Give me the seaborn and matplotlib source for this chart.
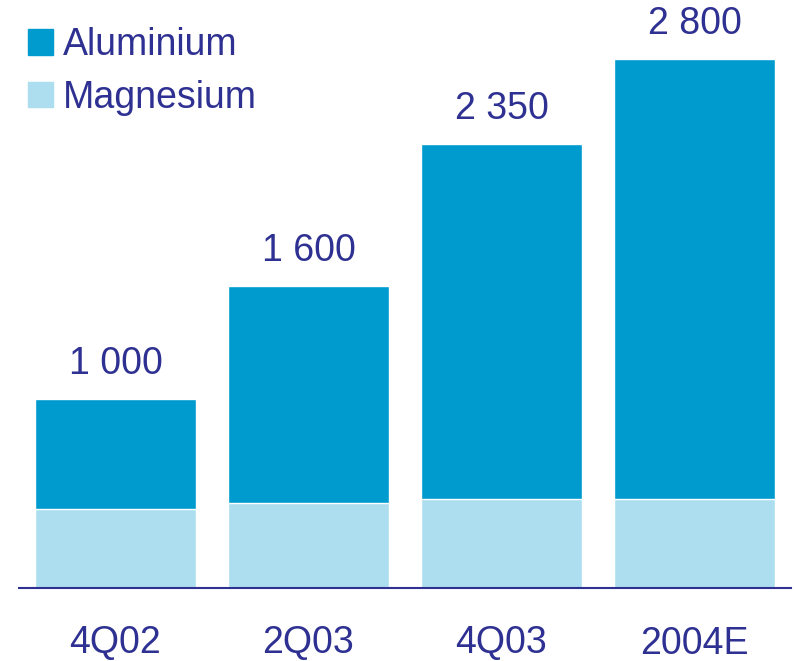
import matplotlib
matplotlib.use("Agg")
import matplotlib.pyplot as plt
from matplotlib.patches import Patch
import seaborn as sns
import pandas as pd

# data
periods = ['4Q02', '2Q03', '4Q03', '2004E']
totals = [1000, 1600, 2350, 2800]
magnesium = [420, 450, 470, 470]
total_labels = ['1 000', '1 600', '2 350', '2 800']

alu_color = '#009BCE'
mag_color = '#ADDEEF'
text_color = '#2E3192'

df = pd.DataFrame({'Period': periods, 'Total': totals, 'Magnesium': magnesium})

sns.set_style('white')
plt.rcParams['font.family'] = ['Liberation Sans', 'DejaVu Sans']

fig = plt.figure(figsize=(7.97, 6.61), dpi=100)
ax = fig.add_axes([19 / 797, (661 - 588) / 661, 772 / 797, 588 / 661])

# stacked bars: total in aluminium colour, magnesium drawn over it
sns.barplot(data=df, x='Period', y='Total', color=alu_color, saturation=1,
            width=0.834, ax=ax)
sns.barplot(data=df, x='Period', y='Magnesium', color=mag_color, saturation=1,
            width=0.834, ax=ax)

ax.set_xlim(-0.5, 3.5)
ax.set_ylim(0, 3111)

# value labels above bars
for i, (t, lab) in enumerate(zip(totals, total_labels)):
    ax.annotate(lab, (i, t), xytext=(0, 12), textcoords='offset points',
                ha='center', va='bottom', fontsize=27, color=text_color)

# axes styling
for s in ['top', 'right', 'left']:
    ax.spines[s].set_visible(False)
ax.spines['bottom'].set_color(text_color)
ax.spines['bottom'].set_linewidth(1.5)
ax.set_yticks([])
ax.set_xlabel('')
ax.set_ylabel('')
ax.tick_params(axis='x', length=0, pad=27, labelsize=27, labelcolor=text_color)

# legend
handles = [Patch(color=alu_color, label='Aluminium'),
           Patch(color=mag_color, label='Magnesium')]
fig.legend(handles=handles, loc='upper left', bbox_to_anchor=(28 / 797, 1 - 27 / 661),
           frameon=False, fontsize=27, labelcolor=text_color,
           handlelength=0.67, handleheight=0.67, handletextpad=0.25,
           labelspacing=0.45, borderpad=0, borderaxespad=0)

fig.savefig('out.png', dpi=100)
